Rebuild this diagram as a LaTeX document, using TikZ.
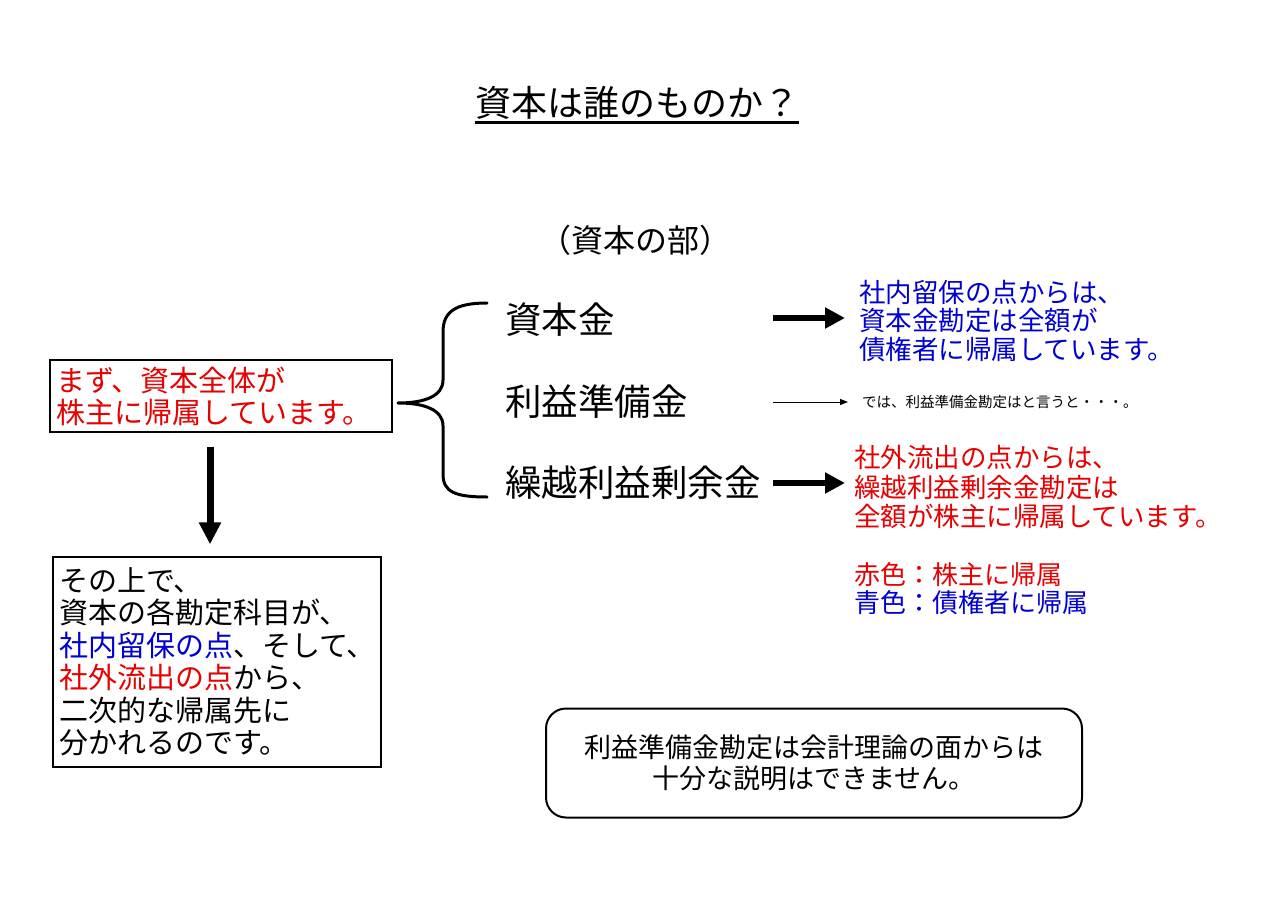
\documentclass[tikz,border=0pt]{standalone}
\usepackage{fontspec}
\setmainfont{Noto Sans CJK JP}
\usetikzlibrary{arrows.meta}
\definecolor{jred}{RGB}{230,0,0}
\definecolor{jblue}{RGB}{0,0,210}
\newcommand{\setfs}[2]{\fontsize{#1}{#2}\selectfont}
\tikzset{
  txt/.style={inner sep=0pt, align=left},
  boxa/.style={draw, line width=1.3pt, inner xsep=6pt, inner ysep=0pt, align=left},
  rbox/.style={draw, line width=2pt, rounded corners=20pt, align=center, minimum width=536pt, minimum height=109pt, font=\setfs{27}{31}},
  bigarrow/.style={line width=6pt, -{Triangle[length=20pt,width=20pt]}},
  downarrow/.style={line width=7pt, -{Triangle[length=22pt,width=21pt]}},
  thinarrow/.style={line width=1pt, -{Triangle[length=8pt,width=6pt]}},
  bracestyle/.style={line width=3pt, line cap=round, line join=round}
}
\begin{document}
\begin{tikzpicture}[x=1pt,y=-1pt]
\useasboundingbox (0,0) rectangle (1279,909);
\fill[white] (0,0) rectangle (1279,909);

% title
\node[txt, anchor=base, font=\setfs{36}{40}] (title) at (637,117) {資本は誰のものか？};
\draw[line width=3pt] ([yshift=-6pt]title.base west) -- ([yshift=-6pt]title.base east);

% section header
\node[txt, font=\setfs{32}{36}] (hdr) at (635,240) {（資本の部）};

% accounts
\node[txt, anchor=west, font=\setfs{36.5}{40}] (k1) at (505,320) {資本金};
\node[txt, anchor=west, font=\setfs{36.5}{40}] (k2) at (505,402) {利益準備金};
\node[txt, anchor=west, font=\setfs{36.5}{40}] (k3) at (505,483) {繰越利益剰余金};

% left boxes
\node[boxa, text width=330pt, minimum height=72pt, font=\setfs{29}{32}, text=jred] (b1) at (221,396)
  {まず、資本全体が\\株主に帰属しています。};
\node[boxa, text width=316pt, minimum height=210pt, font=\setfs{29}{32.5}] (b2) at (217,662)
  {その上で、\\資本の各勘定科目が、\\{\color{jblue}社内留保の点}、そして、\\{\color{jred}社外流出の点}から、\\二次的な帰属先に\\分かれるのです。};

\draw[downarrow] ([xshift=-11pt,yshift=-14pt]b1.south) -- ([xshift=-7pt,yshift=12pt]b2.north);

% brace
\coordinate (bt) at (487,303);
\coordinate (bb) at (487,497);
\coordinate (tip) at (398,403);
\draw[bracestyle] (bt) .. controls (455,303) and (443,312) .. (443,332) -- (443,380)
  .. controls (443,396) and (425,403) .. (tip)
  .. controls (425,403) and (443,410) .. (443,426) -- (443,474)
  .. controls (443,492) and (455,497) .. (bb);

% right texts
\node[txt, anchor=west, font=\setfs{26.5}{28.5}, text=jblue] (t1) at (859,321)
  {社内留保の点からは、\\資本金勘定は全額が\\債権者に帰属しています。};
\node[txt, anchor=west, font=\setfs{14.5}{16}] (t2) at (862,402)
  {では、利益準備金勘定はと言うと・・・。};
\node[txt, anchor=west, font=\setfs{26.5}{29.5}, text=jred] (t3) at (854,487)
  {社外流出の点からは、\\繰越利益剰余金勘定は\\全額が株主に帰属しています。};
\node[txt, anchor=west, font=\setfs{26}{28}] (t4) at (854,589)
  {{\color{jred}赤色：株主に帰属}\\{\color{jblue}青色：債権者に帰属}};

% arrows
\coordinate (s1) at (773,318); \coordinate (e1) at (845,318);
\coordinate (s2) at (773,402); \coordinate (e2) at (848,402);
\coordinate (s3) at (773,483); \coordinate (e3) at (845,483);
\draw[bigarrow] (s1) -- (e1);
\draw[thinarrow] (s2) -- (e2);
\draw[bigarrow] (s3) -- (e3);

% bottom note
\node[rbox] (rb) at (814,763) {利益準備金勘定は会計理論の面からは\\十分な説明はできません。};
\end{tikzpicture}
\end{document}
